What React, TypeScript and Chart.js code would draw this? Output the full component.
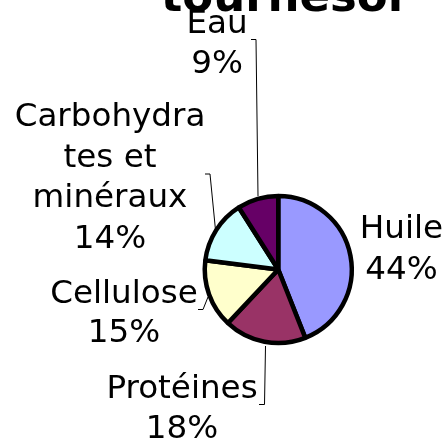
import React, { useEffect, useRef } from "react";
import { Chart, registerables } from "chart.js";

Chart.register(...registerables);

const categories = ["Huile", "Protéines", "Cellulose", "Carbohydrates et minéraux", "Eau"];
const values = [44, 18, 15, 14, 9];
const colors = ["#9999FF", "#993366", "#FFFFCC", "#CCFFFF", "#660066"];
const labelLines = [
  ["Huile", "44%"],
  ["Protéines", "18%"],
  ["Cellulose", "15%"],
  ["Carbohydra", "tes et", "minéraux", "14%"],
  ["Eau", "9%"],
];
const titleLine = "tournesol";

const FONT = '"DejaVu Sans", sans-serif';
const labelCenters = [401.5, 182, 124, 110, 217];
const labelBaselines = [238, 398, 303, 126, 33];
const lineGaps = [41, 40, 39, 40.5, 40];
const leaders: number[][][] = [
  [],
  [[259, 404.5], [264.5, 404.5], [265.5, 346]],
  [[198, 309.5], [203, 309.5], [208, 297]],
  [[205, 174], [210, 174], [215.5, 230]],
  [[251, 39.5], [256, 39.5], [258, 196]],
];

const textPlugin = {
  id: "pieText",
  afterDraw(chart: any) {
    const ctx = chart.ctx;
    ctx.save();
    ctx.fillStyle = "#000";
    ctx.textAlign = "center";
    ctx.textBaseline = "alphabetic";
    ctx.font = `bold 45px ${FONT}`;
    ctx.fillText(titleLine, 282, 11);
    ctx.font = `32.6px ${FONT}`;
    labelLines.forEach((lines, i) => {
      lines.forEach((t, j) => {
        ctx.fillText(t, labelCenters[i], labelBaselines[i] + j * lineGaps[i]);
      });
    });
    ctx.strokeStyle = "#000";
    ctx.lineWidth = 1;
    leaders.forEach((pts) => {
      if (!pts.length) return;
      ctx.beginPath();
      pts.forEach((p, k) => (k ? ctx.lineTo(p[0], p[1]) : ctx.moveTo(p[0], p[1])));
      ctx.stroke();
    });
    ctx.restore();
  },
};

export default function App() {
  const ref = useRef<HTMLCanvasElement>(null);
  useEffect(() => {
    document.body.style.margin = "0";
    const chart = new Chart(ref.current!, {
      type: "pie",
      data: {
        labels: categories,
        datasets: [
          {
            data: values,
            backgroundColor: colors,
            borderColor: "#000",
            borderWidth: 4.5,
            hoverOffset: 0,
          },
        ],
      },
      options: {
        animation: false,
        responsive: false,
        layout: { padding: { left: 202.5, right: 93, top: 192.5, bottom: 99.5 } },
        plugins: { legend: { display: false }, tooltip: { enabled: false }, title: { display: false } },
      },
      plugins: [textPlugin],
    });
    return () => chart.destroy();
  }, []);
  return (
    <div style={{ width: 447, height: 446, background: "#fff" }}>
      <canvas ref={ref} width={447} height={446} style={{ display: "block" }} />
    </div>
  );
}
